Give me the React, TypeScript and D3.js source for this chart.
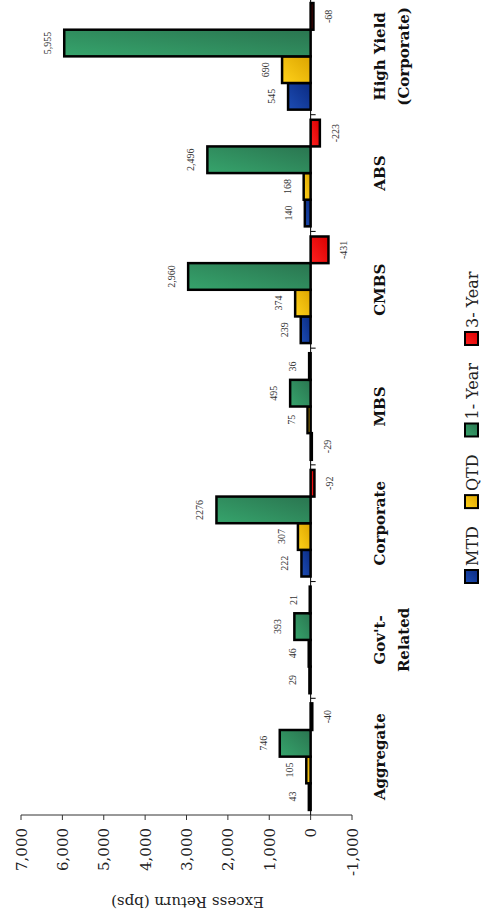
import React, { useEffect, useRef } from "react";
import * as d3 from "d3";

// Sector excess returns (bps) by horizon
const categories = ["Aggregate", "Gov't-Related", "Corporate", "MBS", "CMBS", "ABS", "High Yield (Corporate)"];
const categoryLines = [["Aggregate"], ["Gov't-", "Related"], ["Corporate"], ["MBS"], ["CMBS"], ["ABS"], ["High Yield", "(Corporate)"]];
const seriesNames = ["MTD", "QTD", "1-Year", "3-Year"];
const legendLabels = ["MTD", "QTD", "1- Year", "3- Year"];
const mtd = [43, 29, 222, -29, 239, 140, 545];
const qtd = [105, 46, 307, 75, 374, 168, 690];
const oneYear = [746, 393, 2276, 495, 2960, 2496, 5955];
const threeYear = [-40, 21, -92, 36, -431, -223, -68];
const valueTicks = [7000, 6000, 5000, 4000, 3000, 2000, 1000, 0, -1000];
// values whose labels are printed without a thousands separator
const ungroupedLabels = [2276];

const seriesValues = [mtd, qtd, oneYear, threeYear];
const gradients = [
  ["#1d4db4", "#0a2a82"],
  ["#ffd21a", "#dca400"],
  ["#36a46c", "#2a7550"],
  ["#ff2020", "#d80000"],
];

const W = 483;
const H = 919;
const SERIF = "'DejaVu Serif', serif";

// thousands separator with a plain hyphen for negatives
const fmt = (v: number) => d3.format(",")(v).replace("\u2212", "-");

export default function App() {
  const ref = useRef<SVGSVGElement>(null);

  useEffect(() => {
    const svg = d3.select(ref.current);
    svg.selectAll("*").remove();

    const x = d3.scaleLinear().domain([-1000, 7000]).range([352, 21]);
    const y = d3.scaleBand<string>().domain(categories).range([815, -2]);
    const ySub = d3
      .scaleBand<string>()
      .domain(seriesNames)
      .range([y.bandwidth(), 0])
      .paddingInner(0)
      .paddingOuter(0.19);
    const x0 = x(0);

    const defs = svg.append("defs");
    gradients.forEach((g, i) => {
      const lg = defs
        .append("linearGradient")
        .attr("id", `grad${i}`)
        .attr("x1", 0)
        .attr("y1", 1)
        .attr("x2", 1)
        .attr("y2", 0);
      lg.append("stop").attr("offset", "0%").attr("stop-color", g[0]);
      lg.append("stop").attr("offset", "100%").attr("stop-color", g[1]);
    });

    svg.append("rect").attr("width", W).attr("height", H).attr("fill", "#fff");

    // value axis (bottom)
    const axis = svg.append("g");
    axis
      .append("line")
      .attr("x1", x(7000))
      .attr("x2", x(-1000))
      .attr("y1", 815)
      .attr("y2", 815)
      .attr("stroke", "#333")
      .attr("stroke-width", 1);
    valueTicks.forEach((t) => {
      axis
        .append("line")
        .attr("x1", x(t))
        .attr("x2", x(t))
        .attr("y1", 815)
        .attr("y2", 820)
        .attr("stroke", "#333");
      axis
        .append("text")
        .attr("transform", `translate(${x(t) + 5.5},828) rotate(-90)`)
        .attr("text-anchor", "end")
        .attr("font-family", SERIF)
        .attr("font-size", 15)
        .attr("fill", "#222")
        .text(fmt(t));
    });
    axis
      .append("text")
      .attr("transform", `translate(${(x(7000) + x(-1000)) / 2 + 1},897) rotate(180)`)
      .attr("text-anchor", "middle")
      .attr("font-family", SERIF)
      .attr("font-size", 15)
      .attr("fill", "#222")
      .text("Excess Return (bps)");

    // bars
    const bars = svg.append("g");
    seriesNames.forEach((s, si) => {
      categories.forEach((c, ci) => {
        const v = seriesValues[si][ci];
        const top = (y(c) as number) + (ySub(s) as number);
        bars
          .append("rect")
          .attr("x", Math.min(x0, x(v)))
          .attr("width", Math.abs(x(v) - x0))
          .attr("y", top)
          .attr("height", ySub.bandwidth())
          .attr("fill", `url(#grad${si})`)
          .attr("stroke", "#000")
          .attr("stroke-width", 2.5);
        const cy = top + ySub.bandwidth() / 2;
        const label = ungroupedLabels.includes(v) ? String(v) : fmt(v);
        bars
          .append("text")
          .attr("transform", `translate(${v >= 0 ? x(v) - 13 : x(v) + 19},${cy}) rotate(-90)`)
          .attr("text-anchor", "middle")
          .attr("font-family", "'Liberation Serif', serif")
          .attr("font-size", 10)
          .attr("fill", "#333")
          .text(label);
      });
    });

    // category axis at zero
    const cat = svg.append("g");
    cat
      .append("line")
      .attr("x1", x0)
      .attr("x2", x0)
      .attr("y1", -2)
      .attr("y2", 815)
      .attr("stroke", "#000")
      .attr("stroke-width", 1);
    categories.forEach((c) => {
      const b = y(c) as number;
      cat
        .append("line")
        .attr("x1", x0)
        .attr("x2", x0 + 5)
        .attr("y1", b)
        .attr("y2", b)
        .attr("stroke", "#000");
    });
    categories.forEach((c, ci) => {
      const cy = (y(c) as number) + y.bandwidth() / 2;
      const t = cat
        .append("text")
        .attr("transform", `translate(385,${cy}) rotate(-90)`)
        .attr("text-anchor", "middle")
        .attr("font-family", SERIF)
        .attr("font-weight", "bold")
        .attr("font-size", 15)
        .attr("fill", "#111");
      categoryLines[ci].forEach((line, li) => {
        t.append("tspan").attr("x", 0).attr("y", li * 24).text(line);
      });
    });

    // legend, reading bottom to top
    const legend = svg.append("g");
    let pos = 583;
    seriesNames.forEach((s, si) => {
      legend
        .append("rect")
        .attr("x", 465)
        .attr("y", pos - 13)
        .attr("width", 13)
        .attr("height", 13)
        .attr("fill", `url(#grad${si})`)
        .attr("stroke", "#000")
        .attr("stroke-width", 2);
      const txt = legend
        .append("text")
        .attr("transform", `translate(478,${pos - 17}) rotate(-90)`)
        .attr("text-anchor", "start")
        .attr("font-family", SERIF)
        .attr("font-size", 16)
        .attr("fill", "#222")
        .text(legendLabels[si]);
      const len = (txt.node() as SVGTextElement).getComputedTextLength();
      pos = pos - 17 - len - 18;
    });
  }, []);

  return (
    <svg
      ref={ref}
      width={W}
      height={H}
      style={{ position: "absolute", left: 0, top: 0, display: "block" }}
    />
  );
}
